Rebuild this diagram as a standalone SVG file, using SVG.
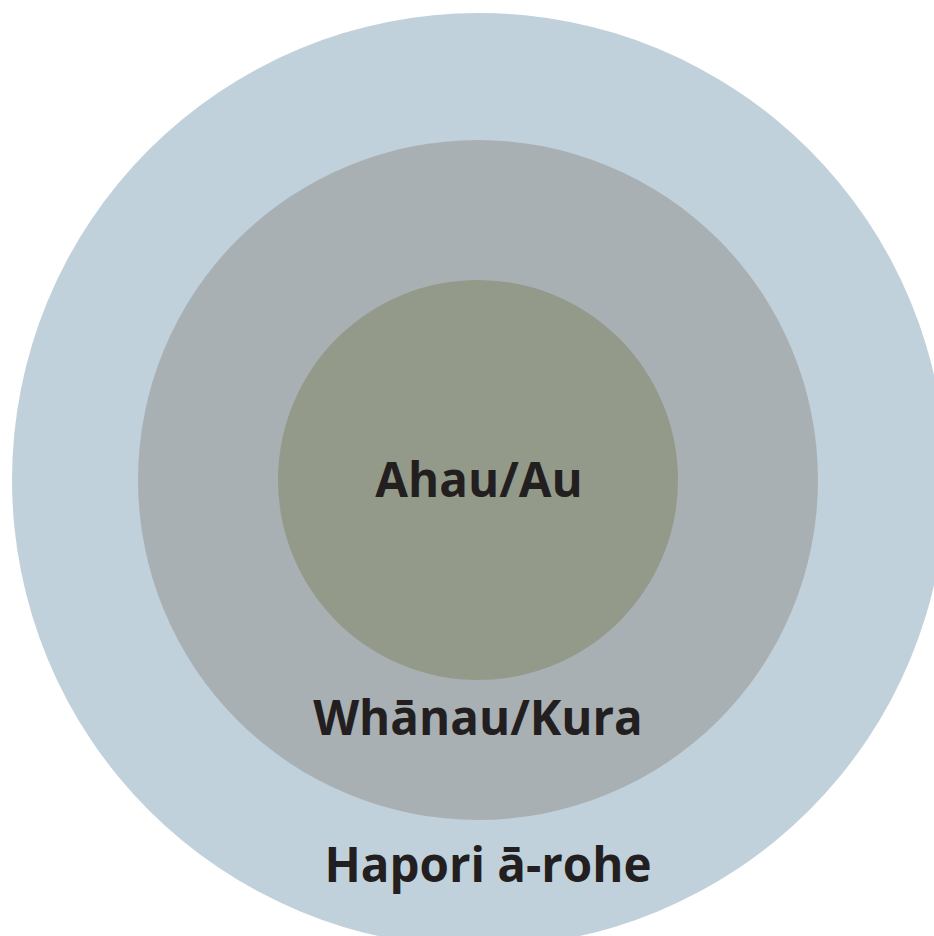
<svg xmlns="http://www.w3.org/2000/svg" width="934" height="936" viewBox="0 0 934 936">
<style>
.lbl{font-family:"Open Sans","Noto Sans","Liberation Sans",sans-serif;font-weight:700;font-size:47.5px;fill:#231f20;text-anchor:middle}
</style>
<rect width="934" height="936" fill="#ffffff"/>
<g id="hapori">
<circle cx="479" cy="480" r="467" fill="#c0d1db"/>
<text class="lbl" x="488" y="882">Hapori ā-rohe</text>
</g>
<g id="whanau">
<circle cx="478" cy="480" r="340" fill="#a9b0b4"/>
<text class="lbl" x="478" y="735">Whānau/Kura</text>
</g>
<g id="ahau">
<circle cx="478" cy="480" r="200" fill="#949a8a"/>
<text class="lbl" x="479" y="497">Ahau/Au</text>
</g>
<g id="connectors"></g>
</svg>
